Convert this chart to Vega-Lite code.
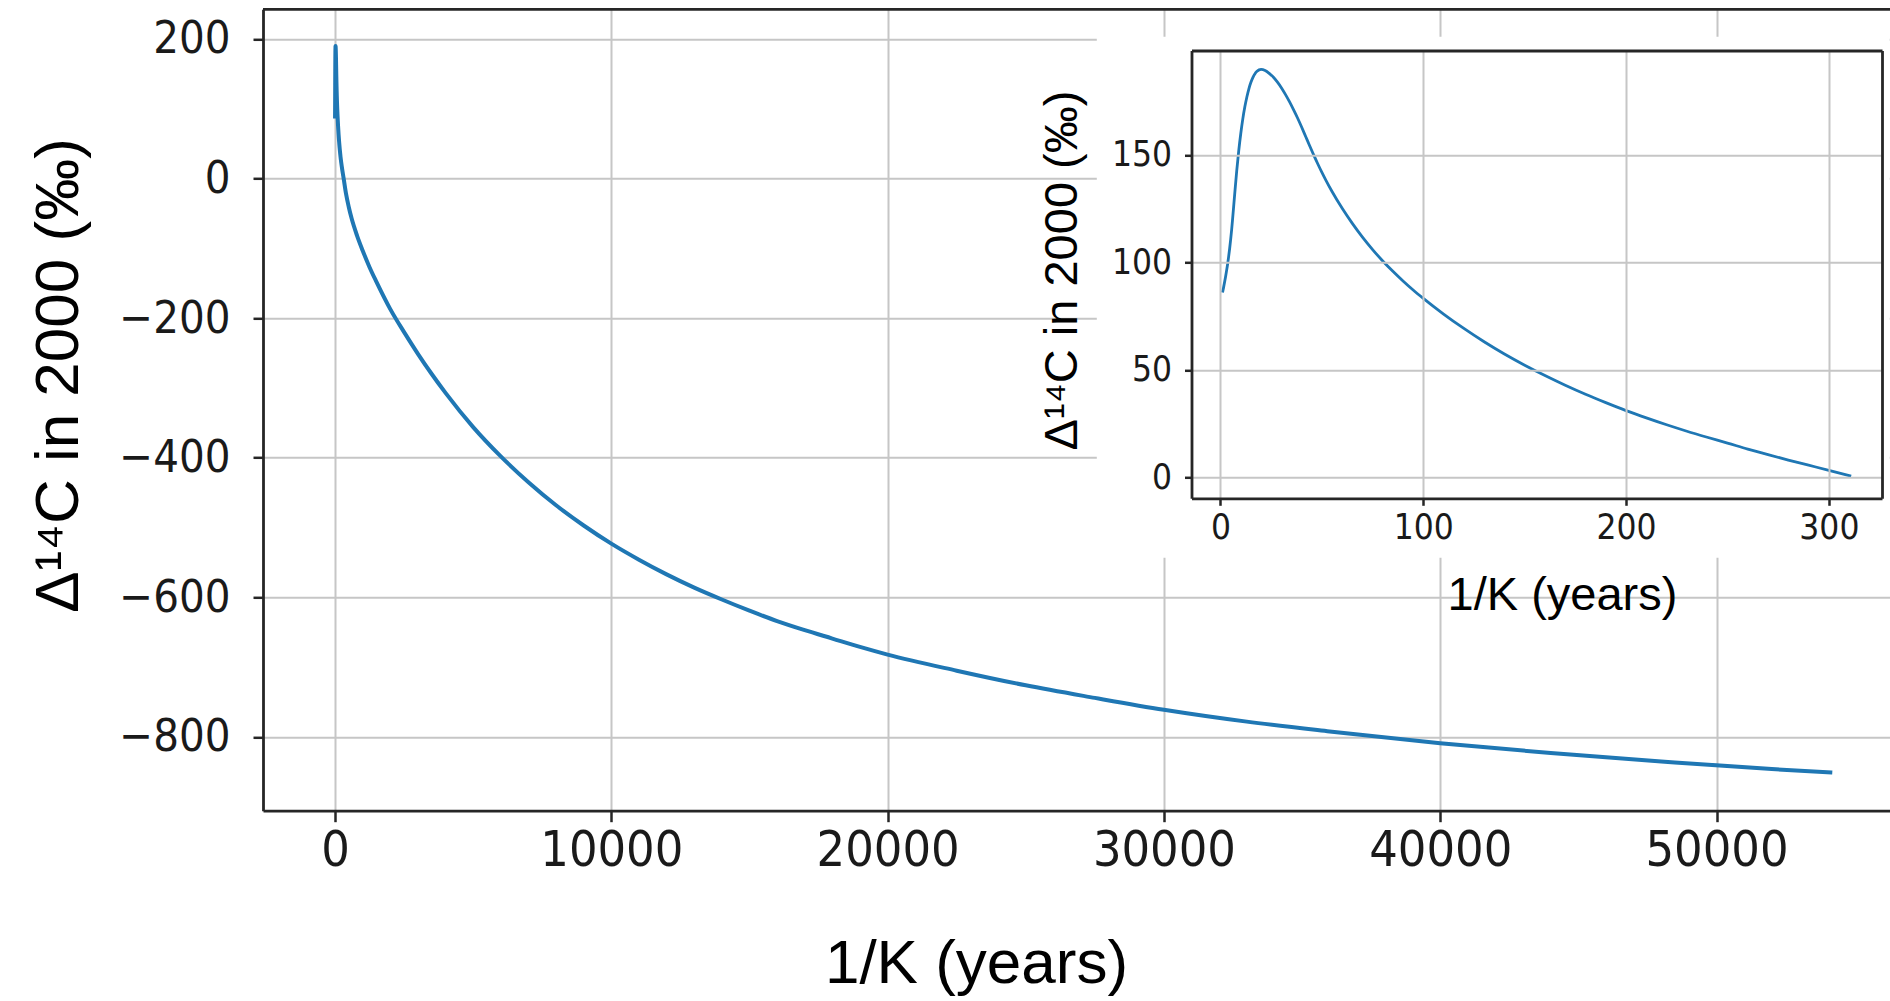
{
  "$schema": "https://vega.github.io/schema/vega-lite/v6.json",
  "width": 1627,
  "height": 801.4,
  "autosize": "none",
  "padding": {"left": 263, "top": 9.3, "right": 0, "bottom": 190.3},
  "background": "white",
  "config": {
    "view": {"stroke": null},
    "axis": {
      "labelFont": "DejaVu Sans Condensed, DejaVu Sans",
      "titleFont": "Liberation Sans",
      "titleFontWeight": "normal",
      "labelColor": "#1a1a1a",
      "titleColor": "#000000",
      "domainColor": "#262626",
      "tickColor": "#262626",
      "gridColor": "#c6c6c6",
      "gridWidth": 2,
      "domainWidth": 2.8,
      "tickWidth": 2.5,
      "labelFlush": false,
      "labelOverlap": false
    }
  },
  "datasets": {
    "curve": [
      {"tau": 1, "d": 86}, {"tau": 1.5, "d": 88.3}, {"tau": 2, "d": 90.8}, {"tau": 2.5, "d": 93.4},
      {"tau": 3, "d": 96.2}, {"tau": 3.5, "d": 99.2}, {"tau": 4, "d": 102.6}, {"tau": 4.5, "d": 106.4},
      {"tau": 5, "d": 110.6}, {"tau": 5.5, "d": 115.3}, {"tau": 6, "d": 120.6}, {"tau": 7, "d": 131.8},
      {"tau": 8, "d": 142.6}, {"tau": 9, "d": 152}, {"tau": 10, "d": 160}, {"tau": 11, "d": 166.8},
      {"tau": 12, "d": 172.4}, {"tau": 13, "d": 177}, {"tau": 14, "d": 180.8}, {"tau": 15, "d": 183.8},
      {"tau": 16, "d": 186.1}, {"tau": 17, "d": 187.8}, {"tau": 18, "d": 188.9}, {"tau": 19, "d": 189.6},
      {"tau": 20, "d": 189.8}, {"tau": 22, "d": 189.3}, {"tau": 24, "d": 188.0}, {"tau": 26, "d": 186.3},
      {"tau": 28, "d": 184.0}, {"tau": 30, "d": 181.3}, {"tau": 32, "d": 178.2}, {"tau": 34, "d": 174.8},
      {"tau": 36, "d": 171.1}, {"tau": 38, "d": 167.2}, {"tau": 40, "d": 163.0}, {"tau": 42, "d": 158.6},
      {"tau": 44, "d": 154.2}, {"tau": 46, "d": 149.9}, {"tau": 48, "d": 145.8}, {"tau": 50, "d": 141.9},
      {"tau": 52, "d": 138.2}, {"tau": 55, "d": 133.0}, {"tau": 60, "d": 125.2}, {"tau": 65, "d": 118.2},
      {"tau": 70, "d": 111.8}, {"tau": 75, "d": 106.0}, {"tau": 80, "d": 100.7}, {"tau": 85, "d": 95.9},
      {"tau": 90, "d": 91.4}, {"tau": 95, "d": 87.2}, {"tau": 100, "d": 83.3}, {"tau": 110, "d": 76.0},
      {"tau": 120, "d": 69.3}, {"tau": 130, "d": 63.1}, {"tau": 140, "d": 57.4}, {"tau": 150, "d": 52.2},
      {"tau": 160, "d": 47.4}, {"tau": 170, "d": 42.9}, {"tau": 180, "d": 38.7}, {"tau": 190, "d": 34.8},
      {"tau": 200, "d": 31.1}, {"tau": 210, "d": 27.7}, {"tau": 220, "d": 24.5}, {"tau": 230, "d": 21.5},
      {"tau": 240, "d": 18.7}, {"tau": 250, "d": 16.0}, {"tau": 260, "d": 13.2}, {"tau": 270, "d": 10.6},
      {"tau": 280, "d": 8.1}, {"tau": 290, "d": 5.7}, {"tau": 300, "d": 3.3}, {"tau": 311, "d": 0.6},
      {"tau": 400, "d": -22}, {"tau": 500, "d": -41}, {"tau": 600, "d": -57}, {"tau": 800, "d": -82},
      {"tau": 1000, "d": -103}, {"tau": 1250, "d": -127}, {"tau": 1500, "d": -148}, {"tau": 2000, "d": -187},
      {"tau": 2500, "d": -220}, {"tau": 3000, "d": -251}, {"tau": 3500, "d": -280}, {"tau": 4000, "d": -307},
      {"tau": 5000, "d": -356}, {"tau": 6000, "d": -398}, {"tau": 7000, "d": -435}, {"tau": 8000, "d": -468},
      {"tau": 9000, "d": -497}, {"tau": 10000, "d": -523}, {"tau": 11000, "d": -546}, {"tau": 12000, "d": -567},
      {"tau": 13000, "d": -586}, {"tau": 14000, "d": -603}, {"tau": 15000, "d": -619}, {"tau": 16000, "d": -634},
      {"tau": 17000, "d": -647}, {"tau": 18000, "d": -659}, {"tau": 19000, "d": -671}, {"tau": 20000, "d": -682},
      {"tau": 22500, "d": -705}, {"tau": 25000, "d": -726}, {"tau": 27500, "d": -744}, {"tau": 30000, "d": -761},
      {"tau": 33000, "d": -778}, {"tau": 36000, "d": -792}, {"tau": 40000, "d": -809}, {"tau": 44000, "d": -823},
      {"tau": 48000, "d": -835}, {"tau": 52000, "d": -846}, {"tau": 54190, "d": -851}
    ]
  },
  "layer": [
    {
      "layer": [
        {
          "data": {"name": "curve"},
          "mark": {"type": "line", "color": "#1f77b4", "strokeWidth": 4, "interpolate": "monotone"},
          "encoding": {
            "x": {
              "field": "tau", "type": "quantitative",
              "scale": {"domain": [-2606, 56279], "nice": false, "zero": false},
              "axis": {
                "values": [0, 10000, 20000, 30000, 40000, 50000], "format": "d",
                "title": "1/K (years)", "labelFontSize": 50, "tickSize": 11, "labelPadding": 4,
                "titleFontSize": 62, "titleX": 713, "titleY": 172, "titleAlign": "center", "titleBaseline": "alphabetic"
              }
            },
            "y": {
              "field": "d", "type": "quantitative",
              "scale": {"domain": [-905.6, 242.5], "nice": false, "zero": false},
              "axis": {
                "values": [-800, -600, -400, -200, 0, 200], "format": "d",
                "title": "Δ¹⁴C in 2000 (‰)", "labelFontSize": 45, "tickSize": 10, "labelPadding": 23,
                "titleFontSize": 62, "titleX": -186, "titleY": 365.7, "titleAngle": 270,
                "titleAlign": "center", "titleBaseline": "alphabetic"
              }
            }
          }
        },
        {
          "data": {"values": [{}]},
          "mark": {"type": "rule", "color": "#262626", "strokeWidth": 2.8},
          "encoding": {"y": {"datum": 242.5, "type": "quantitative", "axis": null}}
        }
      ],
      "resolve": {"axis": {"x": "independent", "y": "independent"}}
    },
    {
      "layer": [
        {
          "data": {"values": [{}]},
          "mark": {"type": "rect", "fill": "white", "stroke": null},
          "encoding": {
            "x": {"datum": -61, "type": "quantitative", "scale": {"domain": [-14.3, 326.2], "range": [928.5, 1619], "nice": false, "zero": false}, "axis": null},
            "x2": {"datum": 330},
            "y": {"datum": 205, "type": "quantitative", "scale": {"domain": [-9.7, 198.6], "range": [489, 41.2], "nice": false, "zero": false}, "axis": null},
            "y2": {"datum": -37.4}
          }
        },
        {
          "data": {"name": "curve"},
          "transform": [{"filter": "datum.tau <= 311"}],
          "mark": {"type": "line", "color": "#1f77b4", "strokeWidth": 2.8, "interpolate": "monotone"},
          "encoding": {
            "x": {
              "field": "tau", "type": "quantitative",
              "scale": {"domain": [-14.3, 326.2], "range": [928.5, 1619], "nice": false, "zero": false},
              "axis": {"orient": "top", "offset": -41.2, "values": [0, 100, 200, 300], "labels": false, "ticks": false, "grid": true, "domain": true, "title": null, "zindex": 1}
            },
            "y": {
              "field": "d", "type": "quantitative",
              "scale": {"domain": [-9.7, 198.6], "range": [489, 41.2], "nice": false, "zero": false},
              "axis": {
                "orient": "left", "offset": -928.5, "values": [0, 50, 100, 150], "format": "d", "grid": true,
                "labelFontSize": 35, "tickSize": 7, "labelPadding": 13,
                "title": "Δ¹⁴C in 2000 (‰)", "titleFontSize": 47, "titleX": -114.9, "titleY": 260.7,
                "titleAngle": 270, "titleAlign": "center", "titleBaseline": "alphabetic", "zindex": 1
              }
            }
          }
        },
        {
          "data": {"name": "curve"},
          "transform": [{"filter": "datum.tau <= 311"}],
          "mark": {"type": "line", "color": "#1f77b4", "strokeOpacity": 0},
          "encoding": {
            "x": {
              "field": "tau", "type": "quantitative",
              "scale": {"domain": [-14.3, 326.2], "range": [928.5, 1619], "nice": false, "zero": false},
              "axis": {
                "orient": "bottom", "offset": -312.4, "values": [0, 100, 200, 300], "format": "d", "grid": false,
                "labelFontSize": 35, "tickSize": 7, "labelPadding": 5,
                "title": "1/K (years)", "titleFontSize": 47, "titleX": 1299, "titleY": 111.2,
                "titleAlign": "center", "titleBaseline": "alphabetic", "zindex": 1
              }
            },
            "y": {
              "field": "d", "type": "quantitative",
              "scale": {"domain": [-9.7, 198.6], "range": [489, 41.2], "nice": false, "zero": false},
              "axis": {"orient": "right", "offset": -8, "labels": false, "ticks": false, "grid": false, "domain": true, "title": null, "zindex": 1}
            }
          }
        }
      ],
      "resolve": {"axis": {"x": "independent", "y": "independent"}}
    }
  ],
  "resolve": {"scale": {"x": "independent", "y": "independent"}, "axis": {"x": "independent", "y": "independent"}}
}
